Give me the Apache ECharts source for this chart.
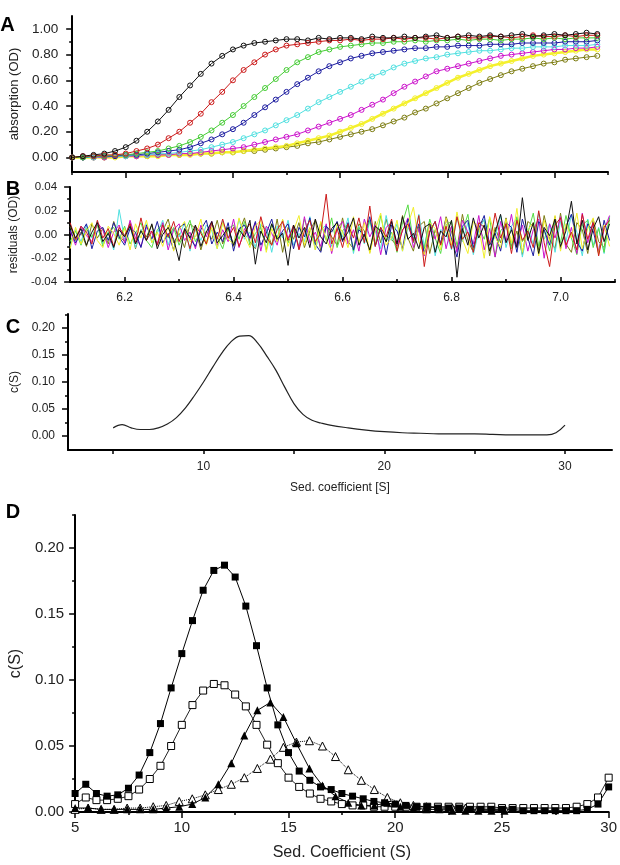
<!DOCTYPE html>
<html><head><meta charset="utf-8">
<script src="https://cdn.jsdelivr.net/npm/echarts@6/dist/echarts.min.js"></script>
<style>html,body{margin:0;padding:0;background:#fff}#c{width:620px;height:865px}</style>
</head><body><div id="c"></div>
<script>
// ---------- Panel A: absorption scans ----------
const sedTime = [6.10,6.12,6.14,6.16,6.18,6.20,6.22,6.24,6.26,6.28,6.30,6.32,6.34,6.36,6.38,6.40,6.42,6.44,6.46,6.48,6.50,6.52,6.54,6.56,6.58,6.60,6.62,6.64,6.66,6.68,6.70,6.72,6.74,6.76,6.78,6.80,6.82,6.84,6.86,6.88,6.90,6.92,6.94,6.96,6.98,7.00,7.02,7.04,7.06,7.08];
const absBlack = [0.00,0.01,0.02,0.03,0.05,0.08,0.13,0.20,0.28,0.37,0.47,0.56,0.65,0.73,0.79,0.84,0.87,0.89,0.90,0.91,0.92,0.92,0.91,0.93,0.92,0.93,0.93,0.92,0.94,0.93,0.93,0.94,0.93,0.94,0.95,0.93,0.94,0.95,0.94,0.95,0.94,0.95,0.96,0.94,0.95,0.96,0.95,0.96,0.97,0.96];
const absRed = [0.00,0.01,0.01,0.02,0.02,0.03,0.05,0.07,0.10,0.15,0.20,0.27,0.34,0.43,0.51,0.60,0.68,0.74,0.80,0.84,0.87,0.88,0.89,0.90,0.91,0.91,0.92,0.91,0.92,0.92,0.93,0.92,0.93,0.93,0.92,0.93,0.94,0.93,0.93,0.94,0.94,0.93,0.94,0.95,0.94,0.94,0.95,0.94,0.95,0.95];
const absGreen = [0.00,0.00,0.01,0.01,0.02,0.02,0.03,0.04,0.05,0.07,0.09,0.12,0.16,0.21,0.27,0.33,0.40,0.47,0.54,0.61,0.68,0.74,0.78,0.82,0.84,0.86,0.87,0.88,0.89,0.89,0.90,0.90,0.91,0.90,0.91,0.91,0.92,0.91,0.92,0.92,0.91,0.92,0.92,0.93,0.92,0.93,0.92,0.93,0.93,0.93];
const absBlue = [0.00,0.00,0.01,0.01,0.01,0.02,0.02,0.03,0.04,0.05,0.06,0.08,0.11,0.14,0.18,0.22,0.27,0.33,0.39,0.45,0.51,0.57,0.62,0.67,0.71,0.74,0.77,0.79,0.81,0.82,0.83,0.84,0.85,0.85,0.86,0.86,0.87,0.87,0.87,0.88,0.88,0.88,0.89,0.89,0.89,0.89,0.90,0.90,0.90,0.91];
const absCyan = [0.00,0.00,0.00,0.01,0.01,0.01,0.02,0.02,0.03,0.03,0.04,0.05,0.06,0.08,0.10,0.12,0.15,0.18,0.21,0.25,0.29,0.33,0.38,0.43,0.47,0.51,0.55,0.59,0.63,0.66,0.70,0.73,0.75,0.77,0.78,0.80,0.81,0.82,0.83,0.83,0.84,0.85,0.85,0.86,0.86,0.86,0.87,0.87,0.87,0.88];
const absMagenta = [0.00,0.00,0.00,0.00,0.01,0.01,0.01,0.02,0.02,0.02,0.03,0.03,0.04,0.05,0.06,0.07,0.08,0.10,0.12,0.14,0.16,0.18,0.21,0.24,0.27,0.30,0.33,0.37,0.41,0.45,0.50,0.55,0.59,0.63,0.67,0.69,0.71,0.73,0.75,0.77,0.79,0.80,0.81,0.82,0.83,0.84,0.84,0.85,0.85,0.86];
const absYellow = [0.00,0.00,0.00,0.00,0.00,0.01,0.01,0.01,0.01,0.02,0.02,0.02,0.03,0.03,0.04,0.04,0.05,0.06,0.07,0.08,0.09,0.11,0.13,0.15,0.17,0.20,0.23,0.26,0.30,0.34,0.38,0.42,0.46,0.50,0.54,0.58,0.62,0.65,0.68,0.71,0.73,0.75,0.77,0.79,0.80,0.81,0.82,0.83,0.84,0.84];
const absOlive = [0.00,0.00,0.00,0.00,0.01,0.01,0.01,0.01,0.02,0.02,0.02,0.03,0.03,0.03,0.04,0.04,0.05,0.05,0.06,0.07,0.08,0.09,0.11,0.12,0.14,0.16,0.18,0.20,0.22,0.25,0.28,0.31,0.35,0.38,0.42,0.46,0.50,0.54,0.58,0.61,0.64,0.67,0.69,0.71,0.73,0.74,0.76,0.77,0.78,0.79];
const absTicks = [0.00,0.20,0.40,0.60,0.80,1.00];
const absMinorTicks = [0.10,0.30,0.50,0.70,0.90];
const timeTicks = [6.2,6.4,6.6,6.8,7.0];
const timeMinorTicks = [6.1,6.3,6.5,6.7,6.9,7.1];

// ---------- Panel B: residuals (milli-OD) ----------
const residTime = [6.10,6.11,6.12,6.13,6.14,6.15,6.16,6.17,6.18,6.19,6.20,6.21,6.22,6.23,6.24,6.25,6.26,6.27,6.28,6.29,6.30,6.31,6.32,6.33,6.34,6.35,6.36,6.37,6.38,6.39,6.40,6.41,6.42,6.43,6.44,6.45,6.46,6.47,6.48,6.49,6.50,6.51,6.52,6.53,6.54,6.55,6.56,6.57,6.58,6.59,6.60,6.61,6.62,6.63,6.64,6.65,6.66,6.67,6.68,6.69,6.70,6.71,6.72,6.73,6.74,6.75,6.76,6.77,6.78,6.79,6.80,6.81,6.82,6.83,6.84,6.85,6.86,6.87,6.88,6.89,6.90,6.91,6.92,6.93,6.94,6.95,6.96,6.97,6.98,6.99,7.00,7.01,7.02,7.03,7.04,7.05,7.06,7.07,7.08,7.09];
const residBlack = [8,-3,5,-9,2,10,-6,1,-11,4, -2,7,-8,3,-5,9,-12,0,6,-4, -22,5,-3,8,-10,2,11,-7,-1,6, -9,4,-2,12,-25,3,-7,9,-4,1, -26,8,-3,6,-11,13,-2,-8,5,10, -5,2,14,-9,0,-13,7,3,-6,11, -8,15,-4,1,-12,6,9,-15,3,-2, 12,-36,5,-9,14,-3,8,-14,2,17, -7,4,-11,31,-5,10,-16,6,-1,13, -10,3,28,-8,12,-13,5,15,-6,9];
const residRed = [10,-4,7,2,-8,12,-3,5,-10,6, -1,9,-7,14,-5,3,-9,8,-2,11, -6,4,-12,7,1,-8,10,-4,13,-3, 6,-10,2,9,-7,15,-2,-9,4,11, -5,8,-13,3,12,-6,1,34,-8,5, -11,9,-3,14,-7,24,-10,6,-2,13, -14,4,9,-6,16,-27,3,11,-9,7, -12,15,-4,2,-15,10,6,-8,18,-3, 9,-16,12,-5,3,-11,20,-7,-27,8, 14,-9,2,-13,17,-4,10,-18,6,12];
const residGreen = [-6,3,-9,5,-2,8,-10,2,6,-4, 7,-8,1,10,-5,-11,4,9,-3,6, -9,2,12,-6,3,-8,10,-2,-12,5, 8,-4,11,-9,1,6,-13,9,-3,12, -7,4,-10,13,-1,-8,10,-5,14,-11, 3,9,-14,6,-2,12,-9,16,-6,2, -15,10,25,-7,4,-12,13,-3,-16,8, 11,-9,2,17,-13,6,-4,14,-19,3, 9,-12,15,-6,1,18,-10,4,-14,11, -7,16,-3,-17,8,12,-11,5,-15,14];
const residBlue = [4,-7,1,9,-12,3,6,-5,10,-2, -9,5,2,-11,8,-4,11,-7,1,-13, 6,9,-3,-10,4,12,-8,2,-6,10, -14,5,8,-3,11,-9,1,13,-6,3, 9,-12,6,-2,14,-8,-15,7,2,11, -6,10,-13,4,-1,15,-10,6,-17,8, 3,-12,13,-5,9,-16,2,11,-8,14, -4,-19,7,12,-11,5,16,-9,1,-14, 10,6,-15,13,-3,-18,11,4,-9,15, -12,7,17,-6,-14,9,3,-16,12,-5];
const residCyan = [-10,4,-6,8,-3,11,-8,2,-13,21, -4,7,-11,3,9,-7,1,12,-9,5, -2,10,-14,6,-5,8,3,-12,11,-1, -8,13,-4,2,-11,9,5,-15,7,-3, 12,-9,1,-6,15,-13,4,8,-10,6, -2,14,-16,7,-8,11,3,-12,16,-5, 9,-14,6,-3,17,-10,12,-18,4,2, -13,15,-6,10,-17,3,13,-9,-2,16, -11,7,14,-19,5,-8,18,-4,9,-15, 11,-6,17,2,-18,13,-9,6,-16,15];
const residMagenta = [3,-9,7,-1,-6,10,4,-11,2,8, -7,12,-3,-10,6,1,-8,10,-13,4, 9,-5,2,-12,8,-2,11,-9,4,-6, 13,-11,5,-4,10,-14,7,1,-9,12, -3,6,-12,15,-7,2,-10,9,-16,5, 11,-8,4,-14,13,-2,8,-17,6,10, -9,3,14,-11,5,-18,9,-4,15,-12, 7,-15,12,2,-8,16,-13,5,-19,11, -6,17,-10,8,-14,4,13,-20,9,-3, 15,-12,6,-16,18,-7,10,-14,4,16];
const residYellow = [-12,6,-8,3,10,-5,-11,7,1,-9, 5,-13,9,-3,12,-7,2,-10,8,-14, 4,11,-6,-2,13,-9,6,-12,10,-4, -8,14,-1,-11,7,12,-15,5,-6,13, -10,3,16,-9,6,-13,11,-4,-14,9, 2,-11,15,-7,10,-16,4,18,-9,-3, 12,-14,8,23,-6,-17,10,5,-13,14, -9,19,-4,-16,11,6,-20,15,-2,-11, 13,-7,22,-15,4,10,-18,12,-6,16, -14,9,-3,18,-12,5,14,-17,8,-10];
const residOlive = [7,-5,2,-10,9,-3,5,-8,11,-1, -6,10,-12,4,-2,8,-9,3,13,-7, 1,-11,9,5,-13,3,-4,12,-8,6, -10,2,14,-6,-12,8,4,-9,13,-15, 6,-4,10,-11,3,12,-14,7,-2,-9, 14,-6,-12,9,3,-15,11,-7,13,-4, -10,16,-3,-14,7,11,-16,4,-8,15, 2,-12,17,-5,-15,9,12,-18,6,-7, 14,-10,3,-17,11,7,-13,16,-4,-12, 18,-8,-15,10,4,-16,13,-6,-11,15];

// ---------- Panel C: c(S) distribution ----------
const cSed = [5.0,5.5,6.0,6.5,7.0,7.5,8.0,8.5,9.0,9.5,10.0,10.5,11.0,11.5,12.0,12.5,13.0,13.5,14.0,14.5,15.0,15.5,16.0,16.5,17.0,18.0,19.0,20.0,21.0,22.0,23.0,24.0,25.0,26.0,27.0,28.0,29.0,29.5,30.0];
const cValue = [0.015,0.021,0.015,0.012,0.012,0.015,0.022,0.034,0.052,0.075,0.100,0.127,0.153,0.174,0.185,0.186,0.172,0.148,0.122,0.090,0.060,0.040,0.029,0.024,0.020,0.015,0.011,0.008,0.006,0.005,0.004,0.004,0.004,0.003,0.002,0.002,0.002,0.006,0.020];
const cTicksY = [0.00,0.05,0.10,0.15,0.20];
const cMinorTicksY = [0.025,0.075,0.125,0.175,0.225];
const cTicksX = [5,10,15,20,25,30];
const cLabelsX = [10,20,30];

// ---------- Panel D: four c(S) distributions ----------
const dSedSquares = [5.0,5.5,6.0,6.5,7.0,7.5,8.0,8.5,9.0,9.5,10.0,10.5,11.0,11.5,12.0,12.5,13.0,13.5,14.0,14.5,15.0,15.5,16.0,16.5,17.0,17.5,18.0,18.5,19.0,19.5,20.0,20.5,21.0,21.5,22.0,22.5,23.0,23.5,24.0,24.5,25.0,25.5,26.0,26.5,27.0,27.5,28.0,28.5,29.0,29.5,30.0];
const dFilledSquares = [0.014,0.021,0.014,0.012,0.013,0.018,0.028,0.045,0.067,0.094,0.120,0.145,0.168,0.183,0.187,0.178,0.156,0.126,0.094,0.066,0.045,0.031,0.024,0.019,0.017,0.014,0.012,0.010,0.008,0.007,0.006,0.005,0.004,0.004,0.003,0.003,0.003,0.002,0.002,0.002,0.002,0.002,0.001,0.001,0.001,0.001,0.001,0.001,0.002,0.006,0.019];
const dOpenSquares = [0.006,0.011,0.009,0.009,0.010,0.012,0.017,0.025,0.035,0.050,0.066,0.081,0.092,0.097,0.096,0.089,0.080,0.066,0.051,0.037,0.026,0.019,0.014,0.010,0.008,0.006,0.005,0.005,0.004,0.004,0.004,0.004,0.004,0.004,0.004,0.004,0.004,0.004,0.004,0.004,0.003,0.003,0.003,0.003,0.003,0.003,0.003,0.004,0.006,0.011,0.026];
const dSedTriangles = [5.00,5.61,6.22,6.83,7.44,8.05,8.66,9.27,9.88,10.49,11.10,11.71,12.32,12.93,13.54,14.15,14.76,15.37,15.98,16.59,17.20,17.80,18.41,19.02,19.63,20.24,20.85,21.46,22.07,22.68,23.29,23.90,24.51,25.12];
const dFilledTriangles = [0.003,0.003,0.002,0.002,0.002,0.002,0.002,0.003,0.004,0.006,0.011,0.021,0.037,0.058,0.077,0.083,0.072,0.052,0.033,0.020,0.012,0.007,0.005,0.005,0.007,0.004,0.003,0.002,0.002,0.001,0.001,0.001,0.001,0.001];
const dOpenTriangles = [0.002,0.003,0.002,0.002,0.003,0.003,0.004,0.005,0.008,0.010,0.013,0.017,0.021,0.026,0.033,0.040,0.049,0.053,0.054,0.050,0.042,0.032,0.024,0.017,0.011,0.007,0.005,0.004,0.003,0.003,0.003,0.003,0.003,0.003];
const dTicksY = [0.00,0.05,0.10,0.15,0.20];
const dMinorTicksY = [0.025,0.075,0.125,0.175,0.225];

// ---------- build ----------
const FONT = '"Liberation Sans", Arial, Helvetica, sans-serif';
const TXT = '#222';
const pair = (xs, ys) => xs.map((x, i) => [x, ys[i]]);
const axisLine = { show: true, onZero: false, lineStyle: { color: '#000', width: 2 } };
const tick = (len, vals, inside) => ({ show: true, length: len, inside: !!inside, customValues: vals, lineStyle: { color: '#000', width: 1.5 } });
const lbl = (size, vals, fmt, margin) => ({ show: true, customValues: vals, formatter: fmt, fontSize: size, fontFamily: FONT, color: TXT, margin: margin });
const noLbl = { show: false };
const minorAxis = (grid, pos, min, max, vals, len, inside) => ({
  type: 'value', gridIndex: grid, position: pos, min: min, max: max,
  axisLine: { show: false, onZero: false },
  axisTick: tick(len, vals, inside), axisLabel: noLbl, splitLine: { show: false }
});

const grids = [
  { left: 68, top: 16, width: 540, height: 156 },
  { left: 68, top: 187, width: 547, height: 95 },
  { left: 68, top: 314, width: 544, height: 136 },
  { left: 68, top: 515, width: 544, height: 297 }
];

const xAxes = [
  { type: 'value', gridIndex: 0, position: 'bottom', min: 6.1, max: 7.1, axisLine, axisTick: tick(6, timeTicks), axisLabel: noLbl, splitLine: { show: false } },
  minorAxis(0, 'bottom', 6.1, 7.1, timeMinorTicks, 3),
  { type: 'value', gridIndex: 1, position: 'bottom', min: 6.1, max: 7.1, axisLine, axisTick: tick(5, timeTicks, true),
    axisLabel: lbl(12, timeTicks, v => v.toFixed(1), 10), splitLine: { show: false } },
  minorAxis(1, 'bottom', 6.1, 7.1, timeMinorTicks, 3, true),
  { type: 'value', gridIndex: 2, position: 'bottom', min: 2.5, max: 32.6, axisLine, axisTick: tick(4, cTicksX),
    axisLabel: lbl(12, cLabelsX, v => String(v), 11), splitLine: { show: false },
    name: 'Sed. coefficient [S]', nameLocation: 'middle', nameGap: 32,
    nameTextStyle: { fontSize: 12, fontFamily: FONT, color: TXT } },
  { type: 'value', gridIndex: 3, position: 'bottom', min: 5, max: 30, interval: 5, axisLine,
    axisTick: { show: true, length: 6, lineStyle: { color: '#000', width: 1.5 } },
    minorTick: { show: true, splitNumber: 2, length: 3, lineStyle: { color: '#000', width: 1.5 } },
    axisLabel: { fontSize: 15, fontFamily: FONT, color: TXT, margin: 8 }, splitLine: { show: false },
    name: 'Sed. Coefficient (S)', nameLocation: 'middle', nameGap: 33,
    nameTextStyle: { fontSize: 16, fontFamily: FONT, color: TXT } }
];

const yAxes = [
  { type: 'value', gridIndex: 0, position: 'left', min: -0.113, max: 1.10, axisLine, axisTick: tick(6, absTicks),
    axisLabel: lbl(13.5, absTicks, v => v.toFixed(2), 14), splitLine: { show: false },
    name: 'absorption (OD)', nameLocation: 'middle', nameGap: 51,
    nameTextStyle: { fontSize: 13, fontFamily: FONT, color: TXT } },
  minorAxis(0, 'left', -0.113, 1.10, absMinorTicks, 3),
  { type: 'value', gridIndex: 1, position: 'left', min: -40, max: 40, interval: 20, axisLine,
    axisTick: { show: true, length: 6, lineStyle: { color: '#000', width: 1.5 } },
    minorTick: { show: true, splitNumber: 2, length: 3, lineStyle: { color: '#000', width: 1.5 } },
    axisLabel: { fontSize: 11.5, fontFamily: FONT, color: TXT, margin: 13, formatter: v => (v / 1000).toFixed(2) },
    splitLine: { show: false },
    name: 'residuals (OD)', nameLocation: 'middle', nameGap: 50,
    nameTextStyle: { fontSize: 12, fontFamily: FONT, color: TXT } },
  { type: 'value', gridIndex: 2, position: 'left', min: -0.026, max: 0.226, axisLine, axisTick: tick(6, cTicksY),
    axisLabel: lbl(12, cTicksY, v => v.toFixed(2), 13), splitLine: { show: false },
    name: 'c(S)', nameLocation: 'middle', nameGap: 44,
    nameTextStyle: { fontSize: 12, fontFamily: FONT, color: TXT } },
  minorAxis(2, 'left', -0.026, 0.226, cMinorTicksY, 3),
  { type: 'value', gridIndex: 3, position: 'left', min: 0, max: 0.225, axisLine, axisTick: tick(6, dTicksY),
    axisLabel: lbl(15, dTicksY, v => v.toFixed(2), 11), splitLine: { show: false },
    name: 'c(S)', nameLocation: 'middle', nameGap: 43,
    nameTextStyle: { fontSize: 16, fontFamily: FONT, color: TXT } },
  minorAxis(3, 'left', 0, 0.225, dMinorTicksY, 3)
];

const absSeries = [
  ['olive', absOlive, '#7d7d12', 1],
  ['yellow', absYellow, '#f4f02c', 2.5],
  ['magenta', absMagenta, '#cc11cc', 1],
  ['cyan', absCyan, '#4fe0e0', 1],
  ['blue', absBlue, '#1c1ca0', 1],
  ['green', absGreen, '#44cc33', 1],
  ['red', absRed, '#cc1a1a', 1],
  ['black', absBlack, '#111111', 1]
].map(([n, d, c, w]) => ({
  name: 'scan ' + n, type: 'line', xAxisIndex: 0, yAxisIndex: 0, data: pair(sedTime, d),
  symbol: 'circle', symbolSize: 5, showSymbol: true,
  itemStyle: { color: 'rgba(255,255,255,0)', borderColor: c, borderWidth: 1 },
  lineStyle: { color: c, width: w }, z: 3
}));

const residSeries = [
  ['olive', residOlive, '#7d7d12'],
  ['cyan', residCyan, '#4fe0e0'],
  ['green', residGreen, '#55dd44'],
  ['magenta', residMagenta, '#cc11cc'],
  ['blue', residBlue, '#1c1ca0'],
  ['yellow', residYellow, '#f2ef2a'],
  ['red', residRed, '#cc1a1a'],
  ['black', residBlack, '#111111']
].map(([n, d, c]) => ({
  name: 'residual ' + n, type: 'line', xAxisIndex: 2, yAxisIndex: 2, data: pair(residTime, d),
  symbol: 'none', lineStyle: { color: c, width: 1 }
}));

const option = {
  animation: false,
  backgroundColor: '#fff',
  grid: grids,
  xAxis: xAxes,
  yAxis: yAxes,
  graphic: [
    { type: 'text', x: 7.5, y: 25, style: { text: 'A', font: 'bold 20px ' + FONT, fill: '#000', align: 'center', verticalAlign: 'middle' } },
    { type: 'text', x: 13, y: 189, style: { text: 'B', font: 'bold 20px ' + FONT, fill: '#000', align: 'center', verticalAlign: 'middle' } },
    { type: 'text', x: 13, y: 327, style: { text: 'C', font: 'bold 20px ' + FONT, fill: '#000', align: 'center', verticalAlign: 'middle' } },
    { type: 'text', x: 13, y: 512, style: { text: 'D', font: 'bold 20px ' + FONT, fill: '#000', align: 'center', verticalAlign: 'middle' } }
  ],
  series: [].concat(absSeries, residSeries, [
    { name: 'c(S)', type: 'line', xAxisIndex: 4, yAxisIndex: 3, data: pair(cSed, cValue),
      smooth: 0.4, symbol: 'none', lineStyle: { color: '#222', width: 1.2 } },
    { name: 'open triangles', type: 'line', xAxisIndex: 5, yAxisIndex: 5, data: pair(dSedTriangles, dOpenTriangles),
      symbol: 'triangle', symbolSize: 8, itemStyle: { color: '#fff', borderColor: '#000', borderWidth: 1 },
      lineStyle: { color: '#000', width: 1, type: 'dotted' } },
    { name: 'open squares', type: 'line', xAxisIndex: 5, yAxisIndex: 5, data: pair(dSedSquares, dOpenSquares),
      symbol: 'rect', symbolSize: 7, itemStyle: { color: '#fff', borderColor: '#000', borderWidth: 1 },
      lineStyle: { color: '#222', width: 1 } },
    { name: 'filled triangles', type: 'line', xAxisIndex: 5, yAxisIndex: 5, data: pair(dSedTriangles, dFilledTriangles),
      symbol: 'triangle', symbolSize: 8, itemStyle: { color: '#000' },
      lineStyle: { color: '#000', width: 1 } },
    { name: 'filled squares', type: 'line', xAxisIndex: 5, yAxisIndex: 5, data: pair(dSedSquares, dFilledSquares),
      symbol: 'rect', symbolSize: 7, itemStyle: { color: '#000' },
      lineStyle: { color: '#000', width: 1 } }
  ])
};

const chart = echarts.init(document.getElementById('c'), null, { renderer: 'canvas' });
chart.setOption(option);
</script>
</body></html>
